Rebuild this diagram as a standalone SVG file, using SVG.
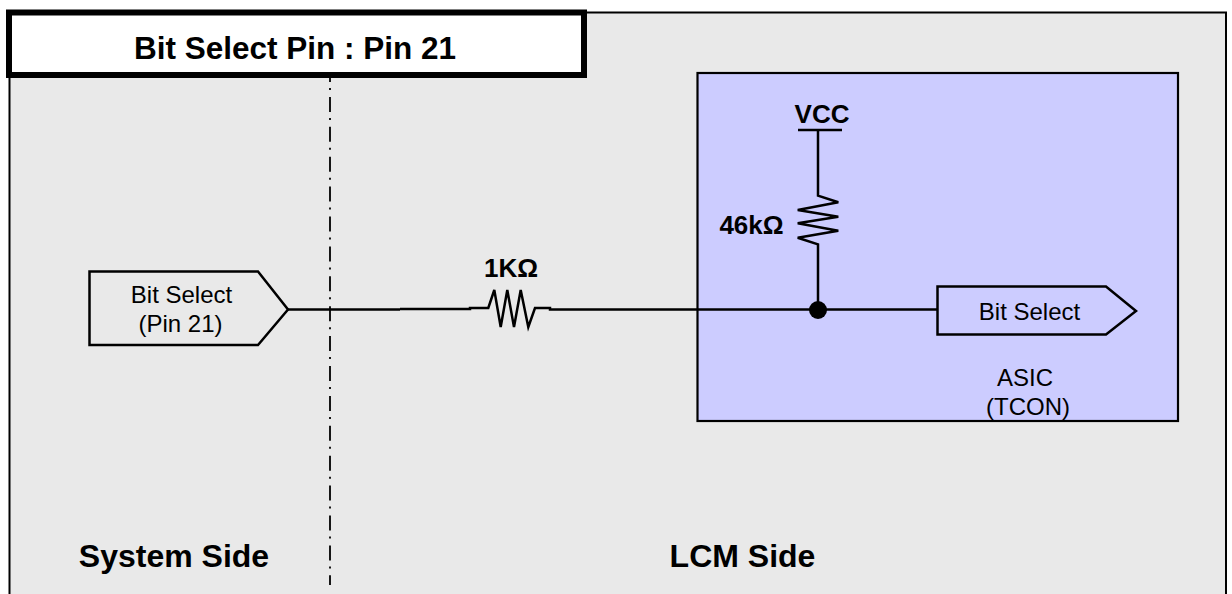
<svg xmlns="http://www.w3.org/2000/svg" width="1232" height="594" viewBox="0 0 1232 594">
<style>
.w{fill:none;stroke:#000;stroke-width:2.500;stroke-linejoin:miter}
.s{font-family:"Liberation Sans",Arial,sans-serif;font-size:24px;fill:#000;text-anchor:middle}
.b{font-family:"Liberation Sans",Arial,sans-serif;font-weight:bold;fill:#000;text-anchor:middle}
</style>
<rect width="1232" height="594" fill="#fff"/>
<g id="frame"><path d="M9.500 594V12.500H1226V594" fill="#e9e9e9" stroke="#000" stroke-width="2"/></g>
<g id="asic"><rect x="697.500" y="73" width="480.500" height="348" fill="#ccccff" stroke="#000" stroke-width="2.200"/>
<text class="s" x="1025" y="386">ASIC</text><text class="s" x="1028" y="415">(TCON)</text></g>
<g id="divider"><path d="M330 67V585" stroke="#000" stroke-width="1.800" fill="none" stroke-dasharray="15 6 2 6.900"/></g>
<g id="title"><rect x="9" y="12.500" width="575" height="62.500" fill="#fff" stroke="#000" stroke-width="6"/><text class="b" x="295" y="59" font-size="31.500">Bit Select Pin : Pin 21</text></g>
<g id="connectors">
<path class="w" d="M288 309.500H400"/><path class="w" d="M400 309H470V308H488.300L494.300 290L500.700 327L507.300 290L514 327L520.700 290L528.300 327L535 308H550V309.500H697"/>
<path class="w" d="M697 309.500H938"/>
<path class="w" d="M818 130V195.700L838.300 202.300L797.700 210L838.300 216.700L797.700 223.300L838.300 230.700L797.700 237.700L818 244.300V309"/>
<path class="w" d="M798 130H842"/>
</g>
<g id="dot"><circle cx="818" cy="310" r="9"/></g>
<g id="pin-in"><path class="w" d="M89.500 271.500H258L288 309.500L258 345H89.500Z"/><text class="s" x="181.500" y="303">Bit Select</text><text class="s" x="180.500" y="332">(Pin 21)</text></g>
<g id="pin-out"><path class="w" d="M937.500 286.500H1106L1136 311L1106 334.500H937.500Z"/><text class="s" x="1029.500" y="320">Bit Select</text></g>
<g id="labels">
<text class="b" font-size="26" x="511" y="277">1KΩ</text>
<text class="b" font-size="26" x="751.500" y="234">46kΩ</text>
<text class="b" font-size="26" x="822" y="123">VCC</text>
<text class="b" font-size="32" x="174" y="567">System Side</text>
<text class="b" font-size="32" x="742.500" y="567">LCM Side</text>
</g>
</svg>
